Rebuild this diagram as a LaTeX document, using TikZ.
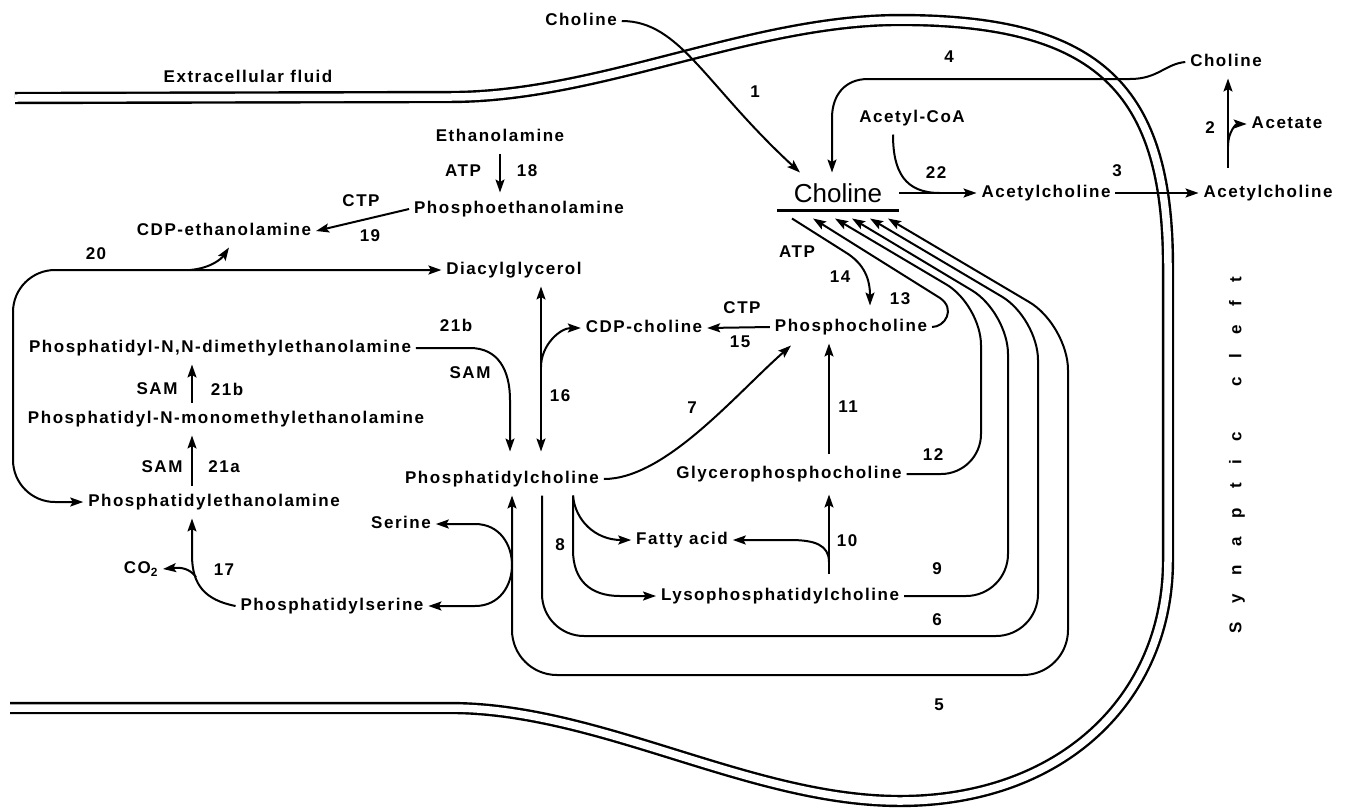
\documentclass[tikz,border=0pt]{standalone}
\usepackage{fontspec}
\setmainfont{Liberation Sans}[LetterSpace=9]
\newfontfamily\cholinefont{Liberation Sans}
\newfontfamily\cleftfont{Liberation Sans}[LetterSpace=110]
\usetikzlibrary{arrows.meta}

\begin{document}
\begin{tikzpicture}[x=1pt,y=-1pt,line width=2pt,
        >={Stealth[length=13pt,width=9pt,inset=2.5pt]},
        every node/.style={font=\bfseries\fontsize{17}{20}\selectfont},
        compound/.style={inner xsep=4pt,inner ysep=8pt,text height=12pt,text depth=3pt},
        num/.style={inner sep=1pt},
        membrane/.style={double,double distance=7.5pt,line width=2.4pt}]
\useasboundingbox (0,0) rectangle (1350,807);
\draw[membrane] (15,98) -- (450,97) .. controls (600,97) and (750,20) .. (900,20) .. controls (1100,20) and (1168,90) .. (1168,267) -- (1168,560) .. controls (1168,700) and (1060,801) .. (900,801) .. controls (750,801) and (600,708) .. (450,708) -- (10,708);
\draw (248,76) node[inner sep=1pt] (ecf) {Extracellular fluid};
\draw (1237,455) node[rotate=90,inner sep=1pt,font=\cleftfont\bfseries\fontsize{17}{20}\selectfont] (cleft) {Synaptic\hspace{22pt} cleft};
\draw (581,21) node[compound] (cholout) {Choline};
\draw (1226,62) node[compound] (cholcleft) {Choline};
\draw (1287,124) node[compound] (acetate) {Acetate};
\draw (1268,193) node[compound] (achcleft) {Acetylcholine};
\draw (1046,193) node[compound] (achin) {Acetylcholine};
\draw (912,118) node[compound] (acoa) {Acetyl-CoA};
\draw (838,193) node[inner xsep=0pt,inner ysep=7pt,minimum width=120pt,text height=19pt,text depth=0pt,font=\cholinefont\fontsize{26}{30}\selectfont] (chol) {Choline};
\draw (500,137) node[compound] (eth) {Ethanolamine};
\draw (519,209) node[compound] (peth) {Phosphoethanolamine};
\draw (224,231) node[compound] (cdpe) {CDP-ethanolamine};
\draw (514,270) node[compound] (dag) {Diacylglycerol};
\draw (220,348) node[compound] (pdme) {Phosphatidyl-N,N-dimethylethanolamine};
\draw (226,419) node[compound] (pmme) {Phosphatidyl-N-monomethylethanolamine};
\draw (214,502) node[compound] (pe) {Phosphatidylethanolamine};
\draw (141,569) node[compound] (co2) {CO\textsubscript{2}};
\draw (332,606) node[compound] (ps) {Phosphatidylserine};
\draw (401,524) node[compound] (ser) {Serine};
\draw (502,479) node[compound] (pc) {Phosphatidylcholine};
\draw (644,328) node[compound] (cdpc) {CDP-choline};
\draw (851,327) node[compound] (phc) {Phosphocholine};
\draw (789,474) node[compound] (gpc) {Glycerophosphocholine};
\draw (682,540) node[compound] (fa) {Fatty acid};
\draw (780,596) node[compound] (lpc) {Lysophosphatidylcholine};
\draw (755,92) node[num] (num1) {1};
\draw (949,57) node[num] (num4) {4};
\draw (1210,128) node[num] (num2) {2};
\draw (1117,171) node[num] (num3) {3};
\draw (936,173) node[num] (num22) {22};
\draw (527,171) node[num] (num18) {18};
\draw (463,171) node[num] (atp18) {ATP};
\draw (361,201) node[num] (ctp19) {CTP};
\draw (370,236) node[num] (num19) {19};
\draw (96,254) node[num] (num20) {20};
\draw (456,325) node[num] (num21c) {21b};
\draw (470,373) node[num] (sam21c) {SAM};
\draw (157,389) node[num] (sam21b) {SAM};
\draw (227,389) node[num] (num21b) {21b};
\draw (162,467) node[num] (sam21a) {SAM};
\draw (224,467) node[num] (num21a) {21a};
\draw (224,570) node[num] (num17) {17};
\draw (560,396) node[num] (num16) {16};
\draw (742,308) node[num] (ctp15) {CTP};
\draw (740,342) node[num] (num15) {15};
\draw (692,408) node[num] (num7) {7};
\draw (848,407) node[num] (num11) {11};
\draw (797,252) node[num] (atp14) {ATP};
\draw (840,277) node[num] (num14) {14};
\draw (900,299) node[num] (num13) {13};
\draw (933,455) node[num] (num12) {12};
\draw (847,541) node[num] (num10) {10};
\draw (560,545) node[num] (num8) {8};
\draw (937,569) node[num] (num9) {9};
\draw (937,620) node[num] (num6) {6};
\draw (939,705) node[num] (num5) {5};
\coordinate (j22) at (940,193);
\coordinate (j2a) at (1228,168);
\coordinate (j2b) at (1228,146);
\coordinate (j20) at (190,270);
\coordinate (j16) at (541,367);
\coordinate (j10) at (829,562);
\coordinate (j17) at (196,577);
\draw[line width=3pt] (chol.south west) -- (chol.south east);
\draw[->] (cholout.east) .. controls (680,21) and (705,85) .. ([xshift=-38pt,yshift=3pt]chol.north);
\draw[->] (cholcleft.west) .. controls (1165,64) and (1158,79) .. (1130,79) -- (868,79) .. controls (845,79) and (832,95) .. (832,118) -- ([xshift=-6pt,yshift=3pt]chol.north);
\draw[->] (chol.east) -- (achin.west);
\draw ([xshift=-19pt]acoa.south) .. controls (893,172) and (905,193) .. (j22);
\draw[->] (achin.east) -- (achcleft.west);
\draw[->] (j2a) -- ([xshift=2pt]cholcleft.south);
\draw[->] (j2b) .. controls (1228,132) and (1236,124) .. (acetate.west);
\draw[->] (eth.south) -- (eth.south |- peth.north);
\draw[->] (peth.west) -- (cdpe.east);
\draw[<->,rounded corners=42pt] (pe.west) -- (13,502) -- (13,270) -- (dag.west);
\draw[->] (j20) .. controls (212,268) and (222,258) .. ([xshift=5pt]cdpe.south);
\draw[->] (pdme.east) -- (470,348) .. controls (498,348) and (510,370) .. (510,400) -- ([xshift=8pt,yshift=11pt]pc.north);
\draw[<->] ([xshift=27pt]dag.south) -- ([xshift=39pt,yshift=11pt]pc.north);
\draw[->] (j16) .. controls (541,345) and (560,328) .. (cdpc.west);
\draw[->] (phc.west) -- (cdpc.east);
\draw[->] (pc.east) .. controls (665,479) and (735,395) .. ([xshift=-60pt,yshift=-2pt]phc.south);
\draw[->] ([xshift=40pt,yshift=4pt]gpc.north) -- ([xshift=-22pt]phc.south);
\draw[->] ([xshift=49pt,yshift=6pt]lpc.north) -- ([xshift=40pt,yshift=-4pt]gpc.south);
\draw[->] (j10) .. controls (829,545) and (815,540) .. (790,540) -- (fa.east);
\draw[->] ([xshift=71pt]pc.south) .. controls (575,520) and (595,540) .. (fa.west);
\draw[->] ([xshift=71pt]pc.south) -- (573,550) .. controls (573,580) and (590,596) .. (620,596) -- (lpc.west);
\draw[<->,rounded corners=45pt] ([xshift=10pt]pc.south) -- (512,675) -- (1068,675) -- (1068,325) -- ([xshift=50pt,yshift=-8pt]chol.south);
\draw[->,rounded corners=42pt] ([xshift=40pt]pc.south) -- (542,636) -- (1038,636) -- (1038,318) -- ([xshift=32pt,yshift=-8pt]chol.south);
\draw[->,rounded corners=42pt] (lpc.east) -- (1008,596) -- (1008,312) -- ([xshift=14pt,yshift=-8pt]chol.south);
\draw[->,rounded corners=40pt] (gpc.east) -- (981,474) -- (981,305) -- ([xshift=-3pt,yshift=-8pt]chol.south);
\draw[->] (phc.east) .. controls (945,327) and (956,309) .. (940,298) -- ([xshift=-25pt,yshift=-8pt]chol.south);
\draw[->] ([xshift=-46pt,yshift=-8pt]chol.south) -- (845,252) .. controls (865,264) and (870,280) .. ([xshift=19pt,yshift=5pt]phc.north);
\draw[<->] (ser.east) -- (475,524) .. controls (500,524) and (512,545) .. (512,565) .. controls (512,585) and (500,606) .. (475,606) -- (ps.east);
\draw[->] (ps.west) .. controls (205,600) and (192,585) .. (192,555) -- ([xshift=-22pt]pe.south);
\draw[->] (j17) .. controls (190,569) and (182,567) .. (co2.east);
\draw[->] ([xshift=-22pt]pe.north) -- ([xshift=-34pt]pmme.south);
\draw[->] ([xshift=-34pt]pmme.north) -- ([xshift=-28pt]pdme.south);
\end{tikzpicture}
\end{document}
